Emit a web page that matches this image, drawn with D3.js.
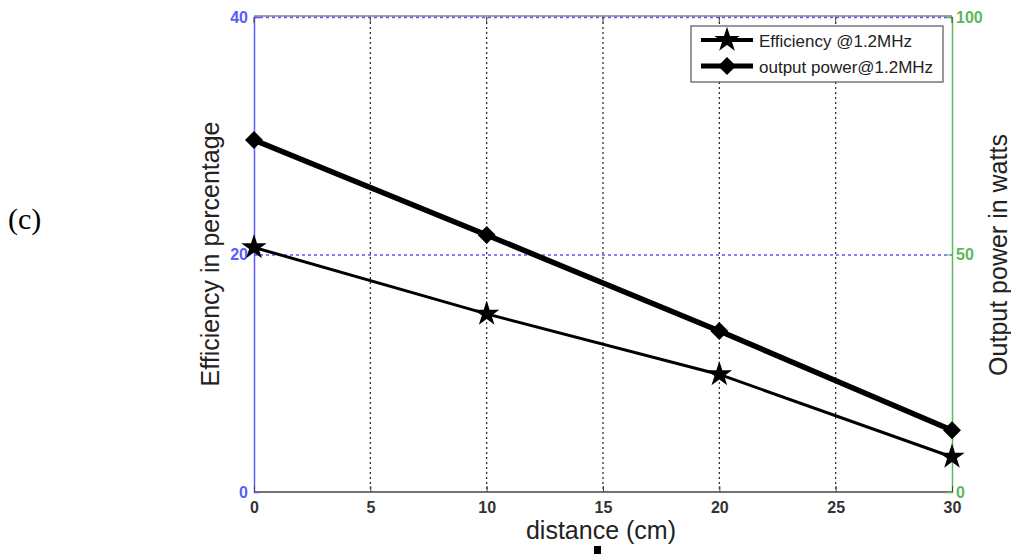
<!DOCTYPE html>
<html>
<head>
<meta charset="utf-8">
<script src="https://cdn.jsdelivr.net/npm/d3@7"></script>
<style>
  body { margin: 0; background: #fff; }
  svg { display: block; }
</style>
</head>
<body>
<svg id="chart" width="1011" height="554"></svg>
<script>
// values
const distance = [0, 10, 20, 30];
const efficiency = [20.6, 15.0, 9.9, 2.95];
const outputPower = [74.1, 54.1, 33.9, 13.0];
const xTicks = [0, 5, 10, 15, 20, 25, 30];
const leftTicks = [0, 20, 40];
const rightTicks = [0, 50, 100];
const legendLabels = ["Efficiency @1.2MHz", "output power@1.2MHz"];

const svg = d3.select("#chart");
const m = { left: 254, right: 952, top: 17, bottom: 492 };

const x = d3.scaleLinear().domain([0, 30]).range([m.left, m.right]);
const yL = d3.scaleLinear().domain([0, 40]).range([m.bottom, m.top]);
const yR = d3.scaleLinear().domain([0, 100]).range([m.bottom, m.top]);

const blue = "#5b5bff", green = "#5cb85c", axisGray = "#444";
const sans = "'Liberation Sans', Arial, sans-serif";
const titleFont = "25px 'Liberation Sans', Arial, sans-serif";

function tickText(g, color) {
  g.attr("font-size", 16).attr("font-family", sans);
  g.selectAll("text").attr("fill", color).attr("font-weight", "bold");
}

// vertical grid (black dotted)
svg.append("g").selectAll("line")
  .data(xTicks.filter(d => d > 0 && d < 30))
  .enter().append("line")
  .attr("x1", d => x(d)).attr("x2", d => x(d))
  .attr("y1", m.top).attr("y2", m.bottom)
  .attr("stroke", "#222").attr("stroke-width", 1.2)
  .attr("stroke-dasharray", "2,3");

// horizontal grid (blue dotted, from left axis)
svg.append("g").selectAll("line")
  .data(leftTicks.filter(d => d > 0))
  .enter().append("line")
  .attr("x1", m.left).attr("x2", m.right)
  .attr("y1", d => yL(d) + 0.5).attr("y2", d => yL(d) + 0.5)
  .attr("stroke", blue).attr("stroke-width", 1.3)
  .attr("stroke-dasharray", "3,3");

// box: bottom and top
svg.append("line").attr("x1", m.left).attr("x2", m.right)
  .attr("y1", m.bottom).attr("y2", m.bottom)
  .attr("stroke", axisGray).attr("stroke-width", 1.5);
svg.append("line").attr("x1", m.left).attr("x2", m.right)
  .attr("y1", m.top - 1).attr("y2", m.top - 1)
  .attr("stroke", axisGray).attr("stroke-width", 1.2);

// left axis (blue)
const gL = svg.append("g").attr("transform", `translate(${m.left},0)`)
  .call(d3.axisLeft(yL).tickValues(leftTicks).tickSize(-6).tickPadding(6));
gL.select(".domain").attr("stroke", blue).attr("stroke-width", 1.5);
gL.selectAll(".tick line").attr("stroke", blue);
tickText(gL, blue);

// right axis (green)
const gR = svg.append("g").attr("transform", `translate(${m.right},0)`)
  .call(d3.axisRight(yR).tickValues(rightTicks).tickSize(-6).tickPadding(4));
gR.select(".domain").attr("stroke", green).attr("stroke-width", 1.5);
gR.selectAll(".tick line").attr("stroke", green);
tickText(gR, green);

// bottom axis
const gB = svg.append("g").attr("transform", `translate(0,${m.bottom})`)
  .call(d3.axisBottom(x).tickValues(xTicks).tickSize(-6).tickPadding(10));
gB.select(".domain").remove();
gB.selectAll(".tick line").attr("stroke", axisGray);
tickText(gB, "#333");

// top ticks
svg.append("g").selectAll("line")
  .data(xTicks)
  .enter().append("line")
  .attr("x1", d => x(d)).attr("x2", d => x(d))
  .attr("y1", m.top).attr("y2", m.top + 6)
  .attr("stroke", axisGray);

// markers
const starPath = d3.symbol().type(d3.symbolStar).size(200)();
const diamondPath = "M0,-9L9,0L0,9L-9,0Z";

// efficiency series
const effPts = distance.map((d, i) => [d, efficiency[i]]);
svg.append("path")
  .datum(effPts)
  .attr("fill", "none").attr("stroke", "#000").attr("stroke-width", 3)
  .attr("d", d3.line().x(d => x(d[0])).y(d => yL(d[1])));
svg.append("g").selectAll("path")
  .data(effPts)
  .enter().append("path")
  .attr("d", starPath)
  .attr("transform", d => `translate(${x(d[0])},${yL(d[1])})`)
  .attr("fill", "#000");

// output power series
const powPts = distance.map((d, i) => [d, outputPower[i]]);
svg.append("path")
  .datum(powPts)
  .attr("fill", "none").attr("stroke", "#000").attr("stroke-width", 5.5)
  .attr("d", d3.line().x(d => x(d[0])).y(d => yR(d[1])));
svg.append("g").selectAll("path")
  .data(powPts)
  .enter().append("path")
  .attr("d", diamondPath)
  .attr("transform", d => `translate(${x(d[0])},${yR(d[1])})`)
  .attr("fill", "#000");

// legend
const lg = svg.append("g");
lg.append("rect").attr("x", 691).attr("y", 26).attr("width", 252).attr("height", 56)
  .attr("fill", "#fff").attr("stroke", "#555").attr("stroke-width", 1.2);
legendLabels.forEach((lab, i) => {
  const cy = 40 + i * 26;
  lg.append("line").attr("x1", 701).attr("x2", 753).attr("y1", cy).attr("y2", cy)
    .attr("stroke", "#000").attr("stroke-width", i === 0 ? 4 : 5);
  lg.append("path").attr("d", i === 0 ? starPath : diamondPath)
    .attr("transform", `translate(727,${cy})`).attr("fill", "#000");
  lg.append("text").attr("x", 759).attr("y", cy + 7).text(lab)
    .attr("fill", "#222")
    .style("font", "17px 'Liberation Sans', Arial, sans-serif");
});

// axis titles
svg.append("text").text("Efficiency in percentage")
  .attr("transform", "translate(219,254) rotate(-90)")
  .attr("text-anchor", "middle")
  .attr("fill", "#222")
  .style("font", titleFont);
svg.append("text").text("Output power in watts")
  .attr("transform", "translate(1007,255) rotate(-90)")
  .attr("text-anchor", "middle")
  .attr("fill", "#222")
  .style("font", titleFont);
svg.append("text").text("distance (cm)")
  .attr("x", 601).attr("y", 539)
  .attr("text-anchor", "middle")
  .attr("fill", "#222")
  .style("font", titleFont);

// small square below the x label
svg.append("rect").attr("x", 594).attr("y", 546).attr("width", 7).attr("height", 8)
  .attr("fill", "#000");

// panel tag
svg.append("text").text("(c)")
  .attr("x", 8).attr("y", 229)
  .attr("fill", "#000")
  .style("font", "30px 'Liberation Serif', 'Times New Roman', serif");
</script>
</body>
</html>
